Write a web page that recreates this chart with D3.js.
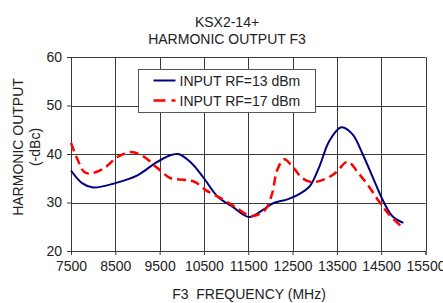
<!DOCTYPE html>
<meta charset="utf-8">
<script src="https://d3js.org/d3.v7.min.js"></script>
<style>
  body { margin: 0; background: #fff; }
  text { font-family: "Liberation Sans", Arial, sans-serif; font-size: 14px; fill: #222; }
</style>
<div id="my_dataviz"></div>
<script>

  // data (MHz, -dBc)
  var freq13 = [7500, 7750, 8000, 8500, 9000, 9400, 9700, 9920, 10200, 10500, 10800, 11150, 11520, 11850, 12050, 12400, 12700, 12900, 13100, 13330, 13600, 13850, 14080, 14310, 14540, 14760, 15000];
  var out13  = [36.6, 34.0, 33.1, 34.0, 35.6, 38.1, 39.6, 40.0, 38.3, 35.0, 31.3, 29.1, 27.0, 28.6, 29.8, 30.7, 32.0, 33.5, 37.3, 42.7, 45.5, 44.1, 40.0, 35.2, 30.4, 27.1, 25.8];

  var freq17 = [7500, 7650, 7800, 7950, 8250, 8550, 8860, 9150, 9450, 9750, 10050, 10300, 10550, 10900, 11200, 11580, 11880, 12040, 12150, 12310, 12500, 12720, 12950, 13250, 13480, 13740, 14000, 14230, 14460, 14690, 15000];
  var out17  = [42.3, 38.8, 36.3, 36.0, 37.1, 39.4, 40.4, 39.4, 37.1, 35.0, 34.7, 34.2, 32.5, 30.8, 29.1, 27.2, 28.5, 31.9, 36.6, 38.9, 37.4, 35.0, 34.2, 34.9, 36.2, 38.4, 35.9, 33.2, 30.1, 27.4, 24.7];

  var xTicks = [7500, 8500, 9500, 10500, 11500, 12500, 13500, 14500, 15500];
  var yTicks = [20, 30, 40, 50, 60];
  var seriesNames = ["INPUT RF=13 dBm", "INPUT RF=17 dBm"];

  var margin = {top: 57, right: 17.5, bottom: 52, left: 71},
      width = 443 - margin.left - margin.right,
      height = 303 - margin.top - margin.bottom;

  var root = d3.select("#my_dataviz")
    .append("svg")
      .attr("width", 443)
      .attr("height", 303);

  // titles
  root.append("text").attr("x", 227).attr("y", 27).attr("text-anchor", "middle").text("KSX2-14+");
  root.append("text").attr("x", 227).attr("y", 44).attr("text-anchor", "middle").text("HARMONIC OUTPUT F3");

  var svg = root.append("g")
      .attr("transform", "translate(" + margin.left + "," + margin.top + ")");

  var x = d3.scaleLinear().domain([7500, 15500]).range([0, width]);
  var y = d3.scaleLinear().domain([20, 60]).range([height, 0]);

  // grid
  svg.append("g").selectAll("line").data(xTicks).enter().append("line")
    .attr("x1", function(d) { return Math.round(x(d)) + 0.5; })
    .attr("x2", function(d) { return Math.round(x(d)) + 0.5; })
    .attr("y1", 0).attr("y2", height)
    .attr("stroke", "#3a3a3a");
  svg.append("g").selectAll("line").data(yTicks).enter().append("line")
    .attr("y1", function(d) { return Math.round(y(d)) + 0.5; })
    .attr("y2", function(d) { return Math.round(y(d)) + 0.5; })
    .attr("x1", 0).attr("x2", width)
    .attr("stroke", "#3a3a3a");

  // axes
  var xAxis = svg.append("g")
    .attr("transform", "translate(0," + height + ")")
    .call(d3.axisBottom(x).tickValues(xTicks).tickSize(4).tickPadding(6).tickFormat(d3.format("d")));
  var yAxis = svg.append("g")
    .call(d3.axisLeft(y).tickValues(yTicks).tickSize(4).tickPadding(5));
  [xAxis, yAxis].forEach(function(a) {
    a.select(".domain").attr("stroke", "#3a3a3a");
    a.selectAll(".tick line").attr("stroke", "#3a3a3a");
    a.selectAll("text").attr("font-family", null).attr("font-size", null).style("font-size", "14px");
  });

  // lines
  var line = d3.line()
    .x(function(d) { return x(d[0]); })
    .y(function(d) { return y(d[1]); })
    .curve(d3.curveCatmullRom.alpha(0.5));

  svg.append("path")
    .datum(d3.zip(freq13, out13))
    .attr("fill", "none")
    .attr("stroke", "#000080")
    .attr("stroke-width", 2)
    .attr("d", line);

  svg.append("path")
    .datum(d3.zip(freq17, out17))
    .attr("fill", "none")
    .attr("stroke", "#ff0000")
    .attr("stroke-width", 2.5)
    .attr("stroke-dasharray", "9,5")
    .attr("d", line);

  // legend
  var lg = root.append("g").attr("transform", "translate(138.5,69.5)");
  lg.append("rect").attr("width", 177).attr("height", 43)
    .attr("fill", "#fff").attr("stroke", "#555");
  lg.append("line").attr("x1", 15).attr("x2", 37).attr("y1", 11).attr("y2", 11)
    .attr("stroke", "#000080").attr("stroke-width", 2);
  lg.append("line").attr("x1", 15).attr("x2", 37).attr("y1", 31).attr("y2", 31)
    .attr("stroke", "#ff0000").attr("stroke-width", 2.5).attr("stroke-dasharray", "12,6");
  lg.append("text").attr("x", 41).attr("y", 16).text(seriesNames[0]);
  lg.append("text").attr("x", 41).attr("y", 36).text(seriesNames[1]);

  // axis labels
  root.append("text")
    .attr("x", 249).attr("y", 299)
    .attr("text-anchor", "middle")
    .style("white-space", "pre")
    .text("F3  FREQUENCY (MHz)");
  root.append("text")
    .attr("text-anchor", "middle")
    .attr("transform", "translate(23,147)rotate(-90)")
    .text("HARMONIC OUTPUT");
  root.append("text")
    .attr("text-anchor", "middle")
    .attr("transform", "translate(40,147)rotate(-90)")
    .text("(-dBc)");

</script>
